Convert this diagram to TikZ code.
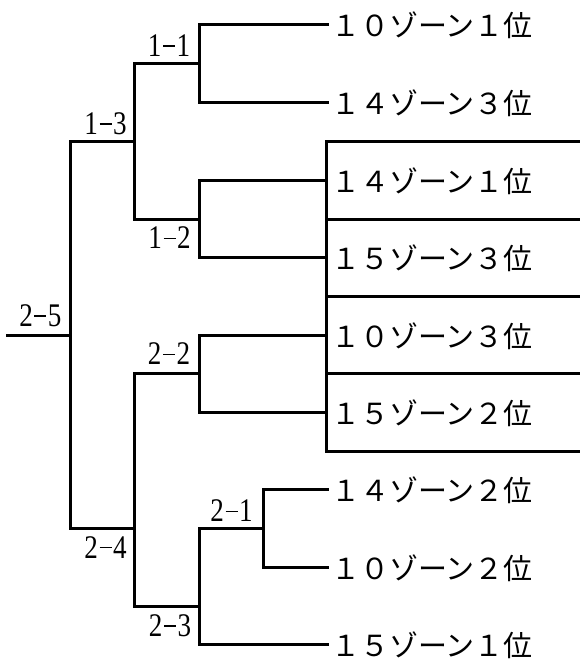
\documentclass[tikz,border=0pt]{standalone}
\usepackage{fontspec}
\usepackage{graphicx}
\newfontfamily\jpfont{Noto Sans CJK JP}
\newfontfamily\lblfont{Liberation Serif}
\newcommand{\matchlbl}[2]{\scalebox{0.82}[1]{#1}\hspace{1.5pt}\rule[10pt]{12pt}{1.4pt}\hspace{1.5pt}\scalebox{0.82}[1]{#2}}
\tikzset{
  wire/.style={line width=3pt, line cap=rect, line join=miter},
  leaf/.style={anchor=base west, inner sep=0pt, font=\jpfont\fontsize{29}{29}\selectfont},
  mlbl/.style={anchor=center, inner sep=0pt, font=\lblfont\fontsize{33}{33}\selectfont}
}
\begin{document}
\begin{tikzpicture}[x=1pt,y=-1pt]
\useasboundingbox (0,0) rectangle (579,659);
\fill[white] (0,0) rectangle (579,659);
% leaf texts
\node[leaf] (L1) at (331,36) {１０ゾーン１位};
\node[leaf] (L2) at (331,114) {１４ゾーン３位};
\node[leaf] (L3) at (331,192) {１４ゾーン１位};
\node[leaf] (L4) at (331,269) {１５ゾーン３位};
\node[leaf] (L5) at (331,347) {１０ゾーン３位};
\node[leaf] (L6) at (331,424) {１５ゾーン２位};
\node[leaf] (L7) at (331,501) {１４ゾーン２位};
\node[leaf] (L8) at (331,579) {１０ゾーン２位};
\node[leaf] (L9) at (331,656) {１５ゾーン１位};
% leaf line ends
\coordinate (e1) at (327,24);
\coordinate (e2) at (327,102);
\coordinate (e3) at (326,180);
\coordinate (e4) at (326,257);
\coordinate (e5) at (326,335);
\coordinate (e6) at (326,412);
\coordinate (e7) at (327,489);
\coordinate (e8) at (327,567);
\coordinate (e9) at (327,644);
% junctions
\coordinate (j11) at (199,63);
\coordinate (j12) at (199,219);
\coordinate (j13) at (134,141);
\coordinate (j22) at (199,373);
\coordinate (j21) at (263,528);
\coordinate (j23) at (199,606);
\coordinate (j24) at (134,528);
\coordinate (j25) at (70,335);
\coordinate (root) at (7,335);
% box grid
\coordinate (b1) at (326,141); \coordinate (c1) at (581,141);
\coordinate (b2) at (326,219); \coordinate (c2) at (581,219);
\coordinate (b3) at (326,296); \coordinate (c3) at (581,296);
\coordinate (b4) at (326,373); \coordinate (c4) at (581,373);
\coordinate (b5) at (326,451); \coordinate (c5) at (581,451);
% brackets
\draw[wire] (e1) -| (j11) |- (e2);
\draw[wire] (e3) -| (j12) |- (e4);
\draw[wire] (e5) -| (j22) |- (e6);
\draw[wire] (e7) -| (j21) |- (e8);
\draw[wire] (j11) -| (j13) |- (j12);
\draw[wire] (j21) -| (j23) |- (e9);
\draw[wire] (j22) -| (j24) |- (j23);
\draw[wire] (j13) -| (j25) |- (j24);
\draw[wire] (root) -- (j25);
% boxes
\draw[wire] (b1) -- (b5);
\draw[wire] (b1) -- (c1);
\draw[wire] (b2) -- (c2);
\draw[wire] (b3) -- (c3);
\draw[wire] (b4) -- (c4);
\draw[wire] (b5) -- (c5);
% match labels
\node[mlbl] (l11) at (169,46) {\matchlbl{1}{1}};
\node[mlbl] (l13) at (105.5,124) {\matchlbl{1}{3}};
\node[mlbl] (l12) at (169.5,238) {\matchlbl{1}{2}};
\node[mlbl] (l25) at (40.5,316) {\matchlbl{2}{5}};
\node[mlbl] (l22) at (169,354) {\matchlbl{2}{2}};
\node[mlbl] (l21) at (231.5,511) {\matchlbl{2}{1}};
\node[mlbl] (l24) at (105.5,547.5) {\matchlbl{2}{4}};
\node[mlbl] (l23) at (170,626) {\matchlbl{2}{3}};
\end{tikzpicture}
\end{document}
